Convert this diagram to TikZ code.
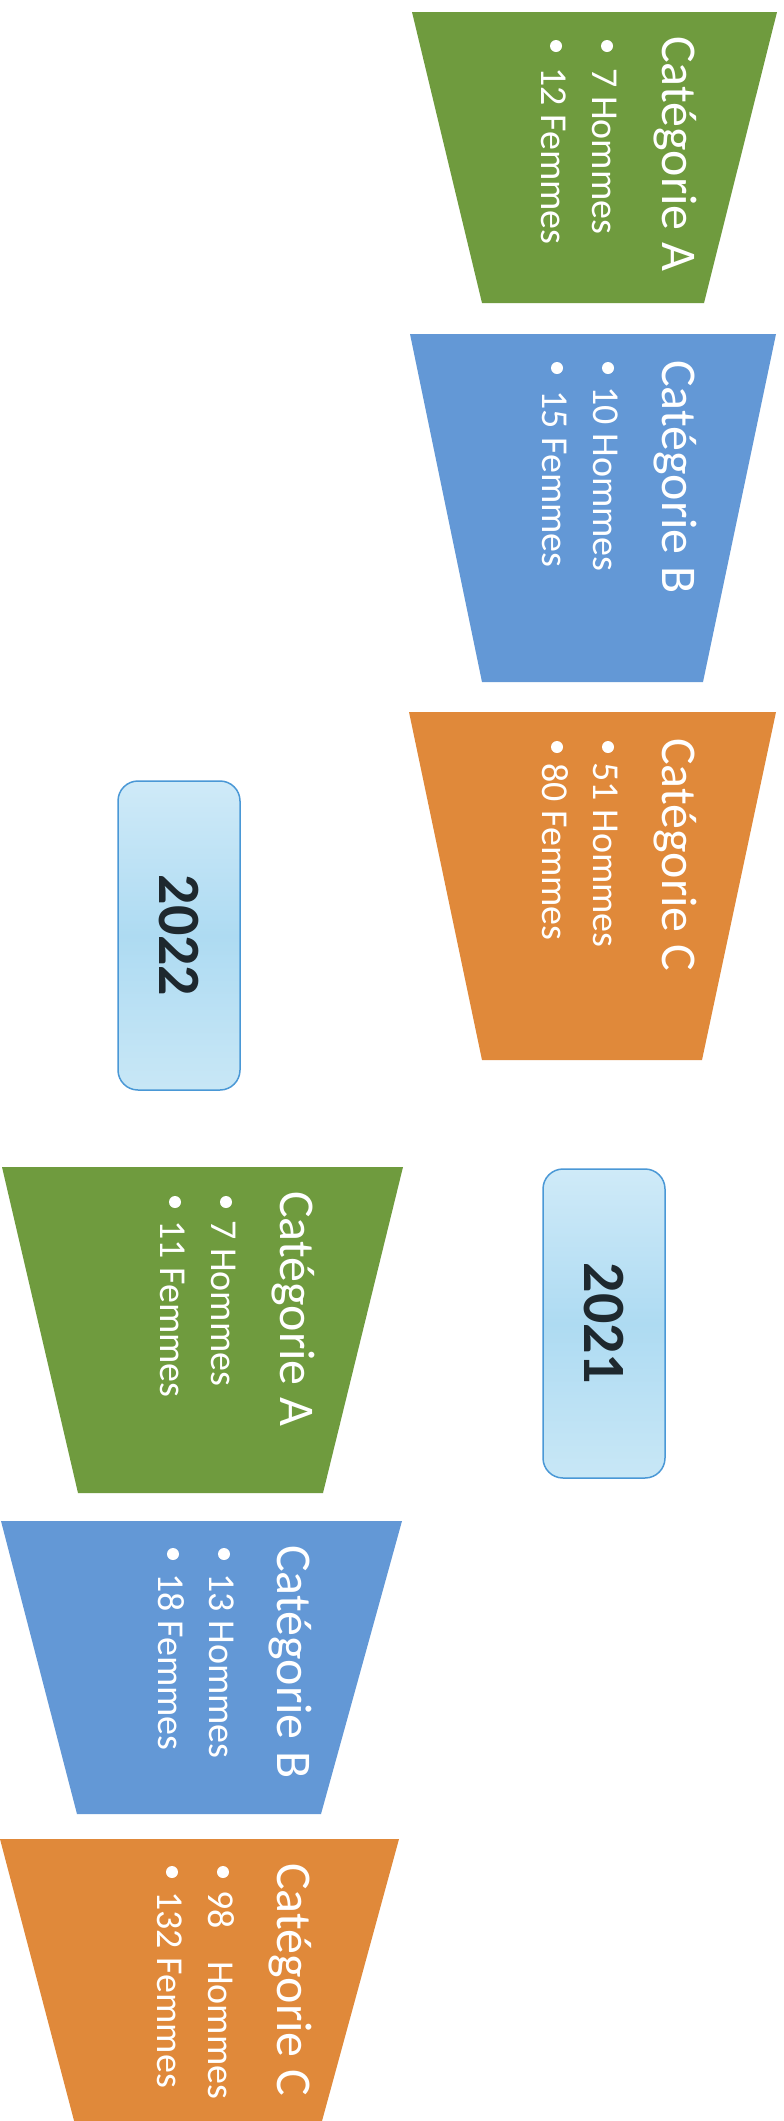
\documentclass[tikz,border=0pt]{standalone}
\usepackage{fontspec}
\setmainfont{Carlito}
\definecolor{catA}{HTML}{6F9B3E}
\definecolor{catB}{HTML}{6398D6}
\definecolor{catC}{HTML}{E0893A}
\definecolor{yrtop}{HTML}{CFEAF8}
\definecolor{yrmid}{HTML}{AEDBF2}
\definecolor{yrbot}{HTML}{C8E7F6}
\definecolor{yrline}{HTML}{4A98D6}
\definecolor{yrtext}{HTML}{1E282E}
\begin{document}
\begin{tikzpicture}[x=1pt,y=-1pt,
  ttl/.style={rotate=-90, anchor=base west, inner sep=0pt, text=white, font=\fontsize{50}{60}\selectfont},
  itm/.style={rotate=-90, anchor=base west, inner sep=0pt, text=white, font=\fontsize{38}{46}\selectfont},
  bdot/.style={circle, fill=white, inner sep=0pt, minimum size=12pt},
  yearbox/.style={rounded corners=20pt, draw=yrline, line width=1.5pt, top color=yrtop, bottom color=yrbot, middle color=yrmid, minimum width=122pt, minimum height=309pt, inner sep=0pt},
  yeartext/.style={rotate=-90, inner sep=0pt, text=yrtext, font=\bfseries\fontsize{60}{72}\selectfont}]
\useasboundingbox (0,0) rectangle (784,2121);
\clip (0,0) rectangle (784,2121);
\fill[white] (0,0) rectangle (784,2121);

% ---- 2022 column (right) ----
\fill[catA] (412,12) -- (777,12) -- (704,303) -- (482,303) -- cycle;
\node[ttl] (tA1) at (662,36) {Catégorie A};
\node[bdot] (dA1h) at (607,46) {};
\node[itm] (hA1) at (592,68) {7 Hommes};
\node[bdot] (dA1f) at (556,46) {};
\node[itm] (fA1) at (541,67) {12 Femmes};

\fill[catB] (410,334) -- (776,334) -- (703,682) -- (482,682) -- cycle;
\node[ttl] (tB1) at (662,360) {Catégorie B};
\node[bdot] (dB1h) at (608,368) {};
\node[itm] (hB1) at (593,386) {10 Hommes};
\node[bdot] (dB1f) at (557,368) {};
\node[itm] (fB1) at (542,390) {15 Femmes};

\fill[catC] (409,712) -- (776,712) -- (702,1060) -- (482,1060) -- cycle;
\node[ttl] (tC1) at (662,738) {Catégorie C};
\node[bdot] (dC1h) at (608,747) {};
\node[itm] (hC1) at (593,762) {51 Hommes};
\node[bdot] (dC1f) at (557,747) {};
\node[itm] (fC1) at (542,763) {80 Femmes};

% ---- year boxes ----
\node[yearbox] (b2022) at (179,935.5) {};
\node[yeartext] (y2022) at (b2022.center) {2022};
\node[yearbox] (b2021) at (604,1323.5) {};
\node[yeartext] (y2021) at (b2021.center) {2021};

% ---- 2021 column (left) ----
\fill[catA] (2,1167) -- (403,1167) -- (323,1493) -- (78,1493) -- cycle;
\node[ttl] (tA2) at (280,1191) {Catégorie A};
\node[bdot] (dA2h) at (226,1202) {};
\node[itm] (hA2) at (211,1220) {7 Hommes};
\node[bdot] (dA2f) at (175,1202) {};
\node[itm] (fA2) at (160,1220) {11 Femmes};

\fill[catB] (1,1521) -- (402,1521) -- (321,1814) -- (77,1814) -- cycle;
\node[ttl] (tB2) at (277,1545) {Catégorie B};
\node[bdot] (dB2h) at (224,1554) {};
\node[itm] (hB2) at (209,1573) {13 Hommes};
\node[bdot] (dB2f) at (173,1554) {};
\node[itm] (fB2) at (158,1573) {18 Femmes};

\fill[catC] (0,1839) -- (399,1839) -- (319,2132) -- (77,2132) -- cycle;
\node[ttl] (tC2) at (277,1863) {Catégorie C};
\node[bdot] (dC2h) at (223,1872) {};
\node[itm] (hC2) at (208,1890) {98\hspace{0.85em}Hommes};
\node[bdot] (dC2f) at (172,1872) {};
\node[itm] (fC2) at (157,1891) {132 Femmes};
\end{tikzpicture}
\end{document}
